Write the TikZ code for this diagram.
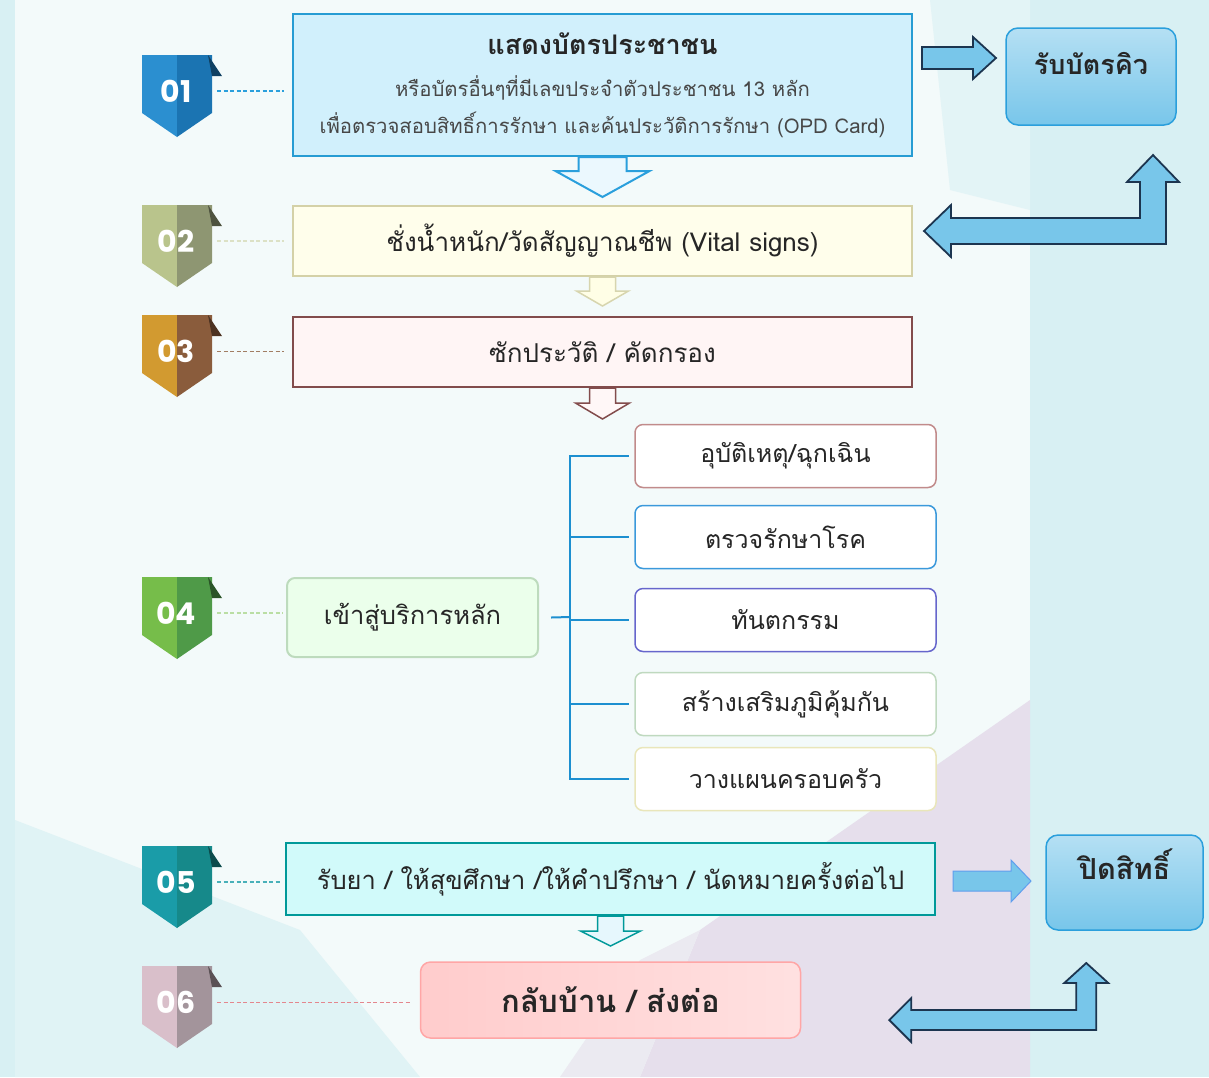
\documentclass[tikz,border=0pt]{standalone}
\usepackage{fontspec}
\setmainfont[Script=Thai]{Loma}
\newfontfamily\numfont{Poppins}
\usetikzlibrary{positioning}
\tikzset{>=latex}

\definecolor{bgcyan}{HTML}{D8F0F3}
\definecolor{bglight}{HTML}{F3FAFA}
\definecolor{bglilac}{HTML}{E6DFEC}
\definecolor{txt}{HTML}{262626}
\definecolor{qblue}{HTML}{2A9FDC}
\definecolor{qfill}{HTML}{78C6EA}
\definecolor{outline}{HTML}{1C3550}
\definecolor{treeblue}{HTML}{1D8FD0}
% badge colours
\definecolor{oneL}{HTML}{2B8FD0}\definecolor{oneD}{HTML}{1B74B2}
\definecolor{twoL}{HTML}{B9C48C}\definecolor{twoD}{HTML}{8E9672}
\definecolor{threeL}{HTML}{D29A30}\definecolor{threeD}{HTML}{8A5C3C}
\definecolor{fourL}{HTML}{76BD4A}\definecolor{fourD}{HTML}{4F9A48}
\definecolor{fiveL}{HTML}{1A9CA8}\definecolor{fiveD}{HTML}{16898A}
\definecolor{sixL}{HTML}{D9BFCA}\definecolor{sixD}{HTML}{A3949B}

% block arrows, drawn from a start point
\newcommand{\downarr}[6]{\draw[#1] (#2) ++(-#5,0) -- ++(0,#3) -- ++(#5-#6,0) -- ++(#6,#4) -- ++(#6,-#4) -- ++(#5-#6,0) -- ++(0,-#3) -- cycle;}
\newcommand{\rightarr}[6]{\draw[#1] (#2) ++(0,-#5) -- ++(#3,0) -- ++(0,#5-#6) -- ++(#4,#6) -- ++(-#4,#6) -- ++(0,#5-#6) -- ++(-#3,0) -- cycle;}
\newcommand{\bentarr}[8]{\draw[#1] (#2) -- ++(#3,-#4) -- ++(0,#4-#5) -- ++(#6-2*#5,0) -- ++(0,-#7+2*#5) -- ++(-#4+#5,0) -- ++(#4,-#8) -- ++(#4,#8) -- ++(-#4+#5,0) -- ++(0,#7) -- ++(-#6,0) -- ++(0,#4-#5) -- cycle;}
% numbered badge
\newcommand{\badge}[5]{%
  \fill[#3] (142,#2) -- (177,#2) -- (177,#2+82) -- (142,#2+58) -- cycle;
  \fill[#4] (177,#2) -- (212,#2) -- (212,#2+58) -- (177,#2+82) -- cycle;
  \fill[#4!55!black] (208,#2) -- (222,#2+21) -- (212,#2+21) -- cycle;
  \node[badgenum] (#1) at (176,#2+36) {#5};}

\begin{document}
\begin{tikzpicture}[x=1pt,y=-1pt,
    stepbox/.style={rectangle, draw, line width=2pt, minimum width=619pt, text=txt, font=\fontsize{26}{30}\selectfont},
    subbox/.style={rectangle, rounded corners=8pt, draw, line width=1.5pt, fill=white, minimum width=301pt, minimum height=63pt, text=txt, font=\fontsize{25}{29}\selectfont},
    sidebox/.style={rectangle, rounded corners=12pt, draw=qblue, line width=1.5pt, top color=qfill!55!white, bottom color=qfill, text=txt, font=\bfseries\fontsize{27}{30}\selectfont},
    badgenum/.style={minimum width=70pt, inner sep=0pt, text=white, font=\numfont\bfseries\fontsize{30}{30}\selectfont},
    dashline/.style={dash pattern=on 4pt off 2.5pt, line width=1.5pt},
    treeline/.style={draw=treeblue, line width=2pt},
    bluearrow/.style={fill=qfill, draw=outline, line width=1.8pt, line join=miter}]
  \useasboundingbox (0,0) rectangle (1209,1077);
  % background
  \fill[bgcyan] (0,0) rectangle (1209,1077);
  \fill[bglight] (15,0) -- (1030,0) -- (1030,1077) -- (15,1077) -- cycle;
  \fill[bgcyan!60!bglight] (930,0) -- (1030,0) -- (1030,210) -- (950,190) -- cycle;
  \fill[bglilac] (640,1077) -- (700,930) -- (1030,700) -- (1030,1077) -- cycle;
  \fill[bglilac!60!bglight] (560,1077) -- (640,960) -- (700,930) -- (640,1077) -- cycle;
  \fill[bgcyan!70!bglight] (15,820) -- (300,930) -- (420,1077) -- (15,1077) -- cycle;

  % main steps
  \node[stepbox, draw=qblue!90!teal, fill=cyan!18, minimum height=142pt, align=center] (show) at (602.5,85)
    {{\bfseries\fontsize{27}{30}\selectfont แสดงบัตรประชาชน}\\[12pt]
     {\fontsize{20.3}{24}\selectfont\color{txt!85} หรือบัตรอื่นๆที่มีเลขประจำตัวประชาชน 13 หลัก}\\[7pt]
     {\fontsize{20.3}{24}\selectfont\color{txt!85} เพื่อตรวจสอบสิทธิ์การรักษา และค้นประวัติการรักษา (OPD Card)}};
  \node[stepbox, draw=yellow!35!gray!60, fill=yellow!8, minimum height=70pt, below of=show, node distance=156pt] (vital) {ชั่งน้ำหนัก/วัดสัญญาณชีพ (Vital signs)};
  \node[stepbox, draw=red!30!black!70, fill=red!4, minimum height=70pt, below of=vital, node distance=111pt] (screen) {ซักประวัติ / คัดกรอง};
  \node[rectangle, rounded corners=8pt, draw=green!30!gray!40, line width=2pt, fill=green!8, minimum width=251pt, minimum height=79pt, text=txt, font=\fontsize{25.5}{29}\selectfont] (main) at (412.5,617.5) {เข้าสู่บริการหลัก};

  % services
  \node[subbox, draw=red!30!gray!70] (acc) at (785.5,456) {อุบัติเหตุ/ฉุกเฉิน};
  \node[subbox, draw=cyan!70!blue!80, below of=acc, node distance=81pt] (treat) {ตรวจรักษาโรค};
  \node[subbox, draw=blue!50!gray!80, below of=treat, node distance=83pt] (dent) {ทันตกรรม};
  \node[subbox, draw=green!25!gray!40, below of=dent, node distance=84pt] (immu) {สร้างเสริมภูมิคุ้มกัน};
  \node[subbox, draw=yellow!50!gray!40, below of=immu, node distance=75pt] (plan) {วางแผนครอบครัว};

  \node[stepbox, draw=teal!80!cyan, fill=teal!22!cyan!18, minimum width=649pt, minimum height=72pt, font=\fontsize{25.5}{29}\selectfont] (drug) at (610.5,879) {รับยา / ให้สุขศึกษา /ให้คำปรึกษา / นัดหมายครั้งต่อไป};
  \node[rectangle, rounded corners=10pt, draw=red!35!white, line width=1.5pt, left color=red!20!white, right color=red!12!white, minimum width=380pt, minimum height=76pt, text=txt, font=\bfseries\fontsize{31}{34}\selectfont, below of=drug, node distance=121pt] (home) {กลับบ้าน / ส่งต่อ};

  % side boxes
  \node[sidebox, minimum width=170pt, minimum height=97pt, inner sep=8pt, text height=38pt, text depth=42pt] (queue) at (1091,76.5) {รับบัตรคิว};
  \node[sidebox, minimum width=157pt, minimum height=95pt, inner sep=8pt, text height=36pt, text depth=42pt, font=\bfseries\fontsize{29}{32}\selectfont] (close) at (1124.5,882.5) {ปิดสิทธิ์};

  % badges
  \badge{b1}{55}{oneL}{oneD}{01}
  \badge{b2}{205}{twoL}{twoD}{02}
  \badge{b3}{315}{threeL}{threeD}{03}
  \badge{b4}{577}{fourL}{fourD}{04}
  \badge{b5}{846}{fiveL}{fiveD}{05}
  \badge{b6}{966}{sixL}{sixD}{06}
  \draw[dashline, draw=qblue, shorten <=6pt, shorten >=8pt] (b1.east) -- (b1.east -| show.west);
  \draw[dashline, draw=twoL!50, shorten <=6pt, shorten >=8pt] (b2.east) -- (b2.east -| vital.west);
  \draw[dashline, draw=threeD!80, line width=1pt, shorten <=6pt, shorten >=8pt] (b3.east) -- (b3.east -| screen.west);
  \draw[dashline, draw=fourL!50, shorten <=6pt, shorten >=3pt] (b4.east) -- (b4.east -| main.west);
  \draw[dashline, draw=fiveL!80, shorten <=6pt, shorten >=3pt] (b5.east) -- (b5.east -| drug.west);
  \draw[dashline, draw=red!30!sixL, line width=1pt, shorten <=6pt, shorten >=10pt] (b6.east) -- (b6.east -| home.west);

  % flow arrows
  \downarr{fill=cyan!8, draw=qblue, line width=2pt}{show.south}{14}{26}{24}{47}
  \downarr{fill=yellow!10, draw=yellow!35!gray!55, line width=1.5pt}{vital.south}{14}{15}{13}{26}
  \downarr{fill=red!3, draw=red!30!black!70, line width=1.5pt}{screen.south}{15}{16}{13}{27}
  \downarr{fill=cyan!10, draw=teal!80!cyan, line width=1.5pt}{drug.south}{15}{15}{13}{30}

  % tree
  \coordinate (trunk) at (570,617);
  \draw[treeline] ([xshift=12pt]main.east) -- (trunk);
  \foreach \s in {acc,treat,dent,immu,plan}
    \draw[treeline] (trunk) |- ([xshift=-5pt]\s.west);

  % side arrows
  \rightarr{bluearrow}{[xshift=9pt,yshift=27pt]show.east}{51}{23}{11}{21}
  \bentarr{bluearrow}{[xshift=11pt,yshift=10pt]vital.east}{27}{26}{13}{215}{62}{27}
  \rightarr{fill=qfill, draw=qfill!80!blue, line width=1pt}{[xshift=17pt,yshift=-2pt]drug.east}{58}{20}{10}{21}
  \bentarr{bluearrow}{[xshift=88pt,yshift=-20pt]home.east}{22}{22}{10}{185}{47}{20}
\end{tikzpicture}
\end{document}
